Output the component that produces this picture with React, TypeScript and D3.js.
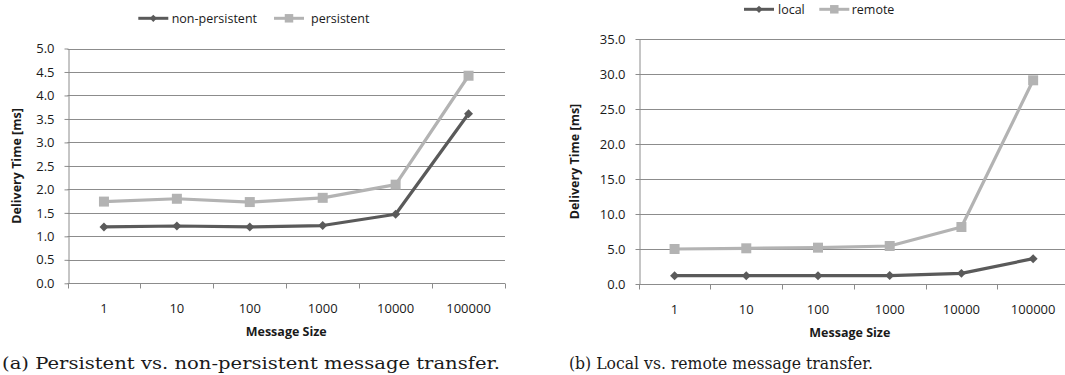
import React, { useEffect, useRef } from 'react';
import * as d3 from 'd3';

// message sizes on the x axis
const sizes = ['1', '10', '100', '1000', '10000', '100000'];

// (a) persistent vs non-persistent, delivery time in ms
const nonPersistent = [1.2, 1.22, 1.2, 1.23, 1.47, 3.61];
const persistent = [1.74, 1.8, 1.73, 1.82, 2.1, 4.42];
const leftTicks = [0, 0.5, 1, 1.5, 2, 2.5, 3, 3.5, 4, 4.5, 5];

// (b) local vs remote, delivery time in ms
const local = [1.19, 1.19, 1.19, 1.21, 1.52, 3.62];
const remote = [5.0, 5.1, 5.19, 5.43, 8.14, 29.1];
const rightTicks = [0, 5, 10, 15, 20, 25, 30, 35];

const DARK = '#5a5a5a';
const LIGHT = '#b3b3b3';
const GRID = '#8c8c8c';
const FONT = '"Open Sans", "Noto Sans", sans-serif';

const panels = [
  {
    series: [
      { name: 'non-persistent', values: nonPersistent, color: DARK, marker: 'diamond' },
      { name: 'persistent', values: persistent, color: LIGHT, marker: 'square' },
    ],
    ticks: leftTicks,
    x0: 67.5, x1: 505, gridEnd: 505,
    y0: 283.3, y1: 48.5,
    yTitleX: 17,
    legendY: 18.3,
    legend: [{ line: 138.3, text: 171.7 }, { line: 274, text: 311 }],
    caption: '(a) Persistent vs. non-persistent message transfer.',
    captionX: 2, captionW: 498,
  },
  {
    series: [
      { name: 'local', values: local, color: DARK, marker: 'diamond' },
      { name: 'remote', values: remote, color: LIGHT, marker: 'square' },
    ],
    ticks: rightTicks,
    x0: 638.7, x1: 1069, gridEnd: 1069,
    y0: 284, y1: 39,
    yTitleX: 575,
    legendY: 9.3,
    legend: [{ line: 744, text: 778 }, { line: 819.3, text: 851.7 }],
    caption: '(b) Local vs. remote message transfer.',
    captionX: 569, captionW: 304,
  },
];

const markerPath = (kind, big) =>
  kind === 'diamond'
    ? d3.symbol(d3.symbolSquare, big ? 40 : 26)()
    : d3.symbol(d3.symbolSquare, big ? 100 : 72)();

const App = () => {
  const svgRef = useRef(null);

  useEffect(() => {
    const svg = d3.select(svgRef.current);
    svg.selectAll('*').remove(); // Clear previous drawings

    panels.forEach(p => {
      const g = svg.append('g');
      const yMax = p.ticks[p.ticks.length - 1];

      const xScale = d3.scaleBand().domain(sizes).range([p.x0, p.x1]).padding(0);
      const yScale = d3.scaleLinear().domain([0, yMax]).range([p.y0, p.y1]);

      // horizontal grid lines
      g.append('g')
        .selectAll('line')
        .data(p.ticks)
        .join('line')
          .attr('x1', p.x0)
          .attr('x2', p.gridEnd)
          .attr('y1', d => Math.round(yScale(d)) + 0.5)
          .attr('y2', d => Math.round(yScale(d)) + 0.5)
          .attr('stroke', GRID)
          .attr('stroke-width', 1);

      // y axis
      const yAxis = g.append('g')
        .attr('transform', `translate(${Math.round(p.x0) + 0.5},0)`)
        .call(d3.axisLeft(yScale).tickValues(p.ticks).tickFormat(d3.format('.1f')).tickSizeInner(4).tickSizeOuter(0).tickPadding(10));
      yAxis.select('.domain').attr('stroke', GRID);
      yAxis.selectAll('.tick line').attr('stroke', GRID);
      yAxis.selectAll('text').attr('font-family', FONT).attr('font-size', 13).attr('fill', '#1a1a1a');

      // x axis, ticks on band edges
      const xAxisY = Math.round(yScale(0)) + 0.5;
      const edges = sizes.map(s => xScale(s)).concat([p.x1]);
      g.append('g')
        .selectAll('line')
        .data(edges)
        .join('line')
          .attr('x1', d => Math.round(d) + 0.5)
          .attr('x2', d => Math.round(d) + 0.5)
          .attr('y1', xAxisY)
          .attr('y2', xAxisY + 5)
          .attr('stroke', GRID);

      g.append('g')
        .selectAll('text')
        .data(sizes)
        .join('text')
          .attr('x', d => xScale(d) + xScale.bandwidth() / 2)
          .attr('y', p.y0 + 30)
          .attr('text-anchor', 'middle')
          .attr('font-family', FONT)
          .attr('font-size', 13)
          .attr('fill', '#1a1a1a')
          .text(d => d);

      // axis titles
      g.append('text')
        .attr('x', (p.x0 + p.x1) / 2 - (p.x1 > 1065 ? 4 : 0))
        .attr('y', p.y0 + 53)
        .attr('text-anchor', 'middle')
        .attr('font-family', FONT)
        .attr('font-size', 12.5)
        .attr('font-weight', 'bold')
        .attr('fill', '#1a1a1a')
        .text('Message Size');

      g.append('text')
        .attr('transform', `translate(${p.yTitleX},${(p.y0 + p.y1) / 2}) rotate(-90)`)
        .attr('text-anchor', 'middle')
        .attr('dy', '0.35em')
        .attr('font-family', FONT)
        .attr('font-size', 12.5)
        .attr('font-weight', 'bold')
        .attr('fill', '#1a1a1a')
        .text('Delivery Time [ms]');

      // series lines and markers
      p.series.forEach(s => {
        const line = d3.line()
          .x((d, i) => xScale(sizes[i]) + xScale.bandwidth() / 2)
          .y(d => yScale(d));

        g.append('path')
          .attr('d', line(s.values))
          .attr('fill', 'none')
          .attr('stroke', s.color)
          .attr('stroke-width', 3.2)
          .attr('stroke-linejoin', 'round');

        g.append('g')
          .selectAll('path')
          .data(s.values)
          .join('path')
            .attr('d', markerPath(s.marker, true))
            .attr('transform', (d, i) =>
              `translate(${xScale(sizes[i]) + xScale.bandwidth() / 2},${yScale(d)})` +
              (s.marker === 'diamond' ? ' rotate(45)' : ''))
            .attr('fill', s.color);
      });

      // legend
      p.series.forEach((s, i) => {
        const pos = p.legend[i];
        const lg = g.append('g');
        lg.append('line')
          .attr('x1', pos.line)
          .attr('x2', pos.line + 30)
          .attr('y1', p.legendY)
          .attr('y2', p.legendY)
          .attr('stroke', s.color)
          .attr('stroke-width', 3);
        lg.append('path')
          .attr('d', markerPath(s.marker, false))
          .attr('transform', `translate(${pos.line + 15},${p.legendY})` + (s.marker === 'diamond' ? ' rotate(45)' : ''))
          .attr('fill', s.color);
        lg.append('text')
          .attr('x', pos.text)
          .attr('y', p.legendY)
          .attr('dy', '0.35em')
          .attr('font-family', FONT)
          .attr('font-size', 12.5)
          .attr('fill', '#1a1a1a')
          .text(s.name);
      });

      // caption
      g.append('text')
        .attr('x', p.captionX)
        .attr('y', 369)
        .attr('font-family', '"DejaVu Serif", serif')
        .attr('font-size', 17)
        .attr('textLength', p.captionW)
        .attr('lengthAdjust', 'spacingAndGlyphs')
        .attr('fill', '#1a1a1a')
        .text(p.caption);
    });
  }, []);

  return (
    <svg
      ref={svgRef}
      width={1065}
      height={375}
      style={{ position: 'absolute', left: 0, top: 0, background: '#fff' }}
    />
  );
};

export default App;
